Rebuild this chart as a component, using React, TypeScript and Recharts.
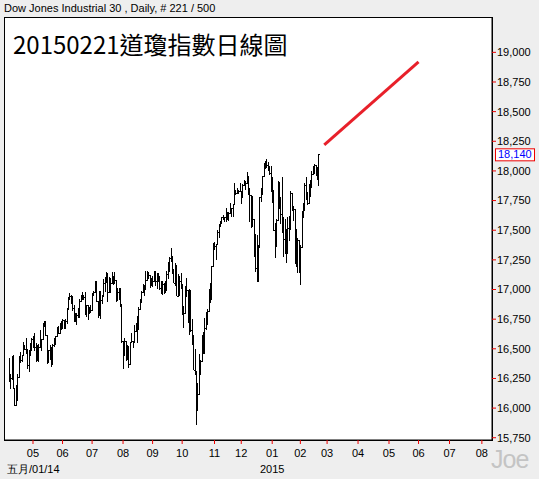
import { ComposedChart, Bar, Line, XAxis, YAxis, ReferenceLine } from "recharts"

// trading-day index of the first bar (0 = 2014-05-01)
const firstIndex = -17

// DJIA daily OHLC, 2014-04-07 .. 2015-02-20, one row per month
const opens = [
  16412, 16245, 16256, 16437, 16170, 16027, 16174, 16263, 16425, 16409, 16449, 16514, 16502, 16501, 16361, 16448, 16535,
  16581, 16558, 16512, 16530, 16401, 16518, 16550, 16583, 16695, 16715, 16613, 16447, 16491, 16511, 16374, 16533, 16543, 16606, 16676, 16633, 16699,
  16717, 16743, 16722, 16738, 16836, 16924, 16943, 16945, 16843, 16734, 16776, 16781, 16808, 16906, 16921, 16948, 16937, 16818, 16868, 16846, 16851,
  16827, 16956, 16976, 17068, 16907, 16787, 16986, 16915, 16944, 17055, 17061, 17138, 16977, 17100, 17052, 17114, 17087, 17083, 16961, 16983, 16913, 16881,
  16563, 16493, 16570, 16430, 16444, 16369, 16554, 16570, 16561, 16652, 16713, 16663, 16839, 16920, 16980, 17039, 17001, 17077, 17107, 17123, 17079,
  17098, 17068, 17078, 17070, 17138, 17112, 17014, 17068, 17050, 16988, 17031, 17131, 17157, 17266, 17280, 17173, 17056, 17210, 16946, 17113, 17071,
  17043, 16805, 16802, 17010, 16992, 16720, 16994, 16660, 16544, 16321, 16316, 16142, 16117, 16380, 16400, 16615, 16462, 16677, 16805, 16818, 17006, 16975, 17196,
  17391, 17367, 17384, 17485, 17555, 17574, 17614, 17615, 17612, 17652, 17635, 17648, 17688, 17686, 17720, 17810, 17818, 17815, 17828,
  17828, 17777, 17880, 17913, 17901, 17959, 17853, 17801, 17533, 17597, 17281, 17180, 17068, 17357, 17779, 17805, 17959, 18024, 18030, 18053, 18038, 17983,
  17823, 17833, 17501, 17371, 17585, 17908, 17737, 17640, 17613, 17427, 17320, 17511, 17515, 17554, 17814, 17672, 17678, 17387, 17191, 17416,
  17165, 17361, 17666, 17673, 17885, 17825, 17729, 17868, 17862, 17973, 18019, 18048, 18030, 17986,
]

const highs = [
  16425, 16284, 16440, 16446, 16170, 16191, 16287, 16438, 16476, 16449, 16555, 16532, 16588, 16501, 16490, 16550, 16588,
  16604, 16631, 16551, 16530, 16542, 16657, 16583, 16714, 16736, 16735, 16613, 16491, 16529, 16514, 16544, 16590, 16607, 16681, 16692, 16715, 16735,
  16755, 16743, 16749, 16845, 16934, 16970, 16953, 16945, 16872, 16800, 16805, 16843, 16918, 16956, 16979, 16953, 16978, 16870, 16868, 16853, 16873,
  16974, 16990, 17074, 17068, 16907, 16986, 16986, 16955, 17088, 17102, 17151, 17138, 17102, 17100, 17146, 17114, 17151, 17083, 17013, 17016, 17014, 16881,
  16563, 16595, 16570, 16534, 16522, 16560, 16636, 16570, 16700, 16719, 16776, 16856, 16920, 16987, 17046, 17042, 17153, 17154, 17144, 17123, 17099,
  17112, 17156, 17153, 17139, 17138, 17112, 17069, 17068, 17051, 17073, 17156, 17233, 17275, 17351, 17280, 17173, 17221, 17210, 17133, 17113, 17136,
  17043, 16857, 17027, 17099, 16992, 17008, 16994, 16749, 16613, 16496, 16316, 16208, 16458, 16407, 16619, 16641, 16758, 16808, 16832, 17006, 17058, 17196, 17395,
  17400, 17388, 17500, 17556, 17576, 17614, 17627, 17615, 17684, 17657, 17656, 17729, 17688, 17721, 17894, 17841, 17852, 17837, 17894,
  17828, 17887, 17925, 17915, 17991, 17959, 17853, 17801, 17787, 17597, 17465, 17463, 17372, 17779, 17852, 17960, 18069, 18086, 18103, 18079, 18038, 18043,
  17951, 17838, 17562, 17597, 17916, 17908, 17782, 17951, 17613, 17591, 17514, 17612, 17622, 17831, 17814, 17708, 17678, 17508, 17434, 17416,
  17372, 17666, 17732, 17896, 17951, 17825, 17890, 17924, 18003, 18044, 18061, 18048, 18030, 18141,
]

const lows = [
  16220, 16158, 16240, 16164, 16015, 16027, 16060, 16263, 16377, 16385, 16449, 16490, 16455, 16328, 16304, 16448, 16480,
  16505, 16484, 16389, 16397, 16401, 16518, 16480, 16583, 16680, 16605, 16375, 16379, 16406, 16345, 16374, 16519, 16543, 16606, 16627, 16633, 16660,
  16665, 16668, 16663, 16705, 16836, 16918, 16881, 16820, 16724, 16734, 16703, 16756, 16761, 16900, 16921, 16912, 16787, 16766, 16744, 16795, 16803,
  16827, 16949, 16976, 16895, 16760, 16787, 16750, 16874, 16944, 16981, 17061, 16896, 16977, 16971, 17052, 17038, 17049, 16898, 16903, 16912, 16853, 16548,
  16333, 16437, 16394, 16405, 16334, 16368, 16554, 16508, 16561, 16652, 16548, 16663, 16839, 16887, 16980, 16947, 17001, 17077, 17087, 17015, 17030,
  17017, 17068, 17030, 17003, 17066, 16992, 16958, 16954, 16963, 16974, 16989, 17090, 17157, 17235, 17128, 17053, 17032, 16945, 16946, 16945, 17002,
  16781, 16674, 16802, 16940, 16716, 16619, 16642, 16530, 16321, 16276, 15855, 15976, 16117, 16280, 16400, 16460, 16462, 16661, 16703, 16818, 16884, 16913, 17196,
  17329, 17251, 17384, 17436, 17523, 17550, 17590, 17566, 17570, 17590, 17580, 17648, 17610, 17611, 17720, 17796, 17806, 17805, 17820,
  17719, 17777, 17870, 17840, 17901, 17794, 17573, 17522, 17533, 17276, 17150, 17067, 17068, 17357, 17741, 17805, 17959, 18023, 18030, 17997, 17966, 17820,
  17731, 17492, 17262, 17371, 17585, 17681, 17553, 17480, 17276, 17299, 17227, 17299, 17405, 17499, 17660, 17579, 17219, 17191, 17137, 17139,
  17037, 17361, 17603, 17673, 17753, 17711, 17729, 17783, 17862, 17973, 17974, 17957, 17922, 17870,
]

const closes = [
  16245, 16256, 16437, 16170, 16027, 16174, 16263, 16425, 16409, 16449, 16514, 16502, 16501, 16361, 16448, 16535, 16581,
  16558, 16512, 16530, 16401, 16518, 16550, 16583, 16695, 16715, 16613, 16447, 16491, 16511, 16374, 16533, 16543, 16606, 16676, 16633, 16699, 16717,
  16743, 16722, 16738, 16836, 16924, 16943, 16945, 16843, 16734, 16776, 16781, 16808, 16906, 16921, 16948, 16937, 16818, 16868, 16846, 16851, 16827,
  16956, 16976, 17068, 16907, 16787, 16986, 16915, 16944, 17055, 17061, 17138, 16977, 17100, 17052, 17114, 17087, 17083, 16961, 16983, 16913, 16881, 16563,
  16493, 16570, 16430, 16444, 16369, 16554, 16570, 16561, 16652, 16713, 16663, 16839, 16920, 16980, 17039, 17001, 17077, 17107, 17123, 17079, 17098,
  17068, 17078, 17070, 17138, 17112, 17014, 17068, 17050, 16988, 17031, 17131, 17157, 17266, 17280, 17173, 17056, 17210, 16946, 17113, 17071, 17043,
  16805, 16802, 17010, 16992, 16720, 16994, 16660, 16544, 16321, 16316, 16142, 16117, 16380, 16400, 16615, 16462, 16677, 16805, 16818, 17006, 16975, 17196, 17391,
  17367, 17384, 17485, 17555, 17574, 17614, 17615, 17612, 17652, 17635, 17648, 17688, 17686, 17720, 17810, 17818, 17815, 17828, 17828,
  17777, 17880, 17913, 17901, 17959, 17853, 17801, 17533, 17597, 17281, 17180, 17068, 17357, 17779, 17805, 17959, 18024, 18030, 18053, 18038, 17983, 17823,
  17833, 17501, 17371, 17585, 17908, 17737, 17640, 17613, 17427, 17320, 17511, 17515, 17554, 17814, 17672, 17678, 17387, 17191, 17416, 17165,
  17361, 17666, 17673, 17885, 17825, 17729, 17868, 17862, 17973, 18019, 18048, 18030, 17986, 18140,
]

// month starts on the trading-day axis (future months count weekdays)
const monthTicks = [0, 21, 42, 64, 85, 106, 129, 148, 170, 190, 209, 231, 253, 274, 296, 319]
const monthLabels = ["05", "06", "07", "08", "09", "10", "11", "12", "01", "02", "03", "04", "05", "06", "07", "08"]

const priceTicks = [15750, 16000, 16250, 16500, 16750, 17000, 17250, 17500, 17750, 18000, 18250, 18500, 18750, 19000]

// red projection line
const trendIndex = [207, 274]
const trendValues = [18220, 18920]

const lastClose = 18140

const W = 539
const H = 479
const plot = { left: 4, top: 17, right: 492, bottom: 440 }

const bars = closes.map((c, k) => ({
  i: firstIndex + k,
  o: opens[k],
  h: highs[k],
  l: lows[k],
  c,
}))

const trend = trendIndex.map((i, k) => ({ i, v: trendValues[k] }))

function OhlcBar(props: any) {
  const { x, y, width, height, payload } = props
  const top = Math.min(y, y + height)
  const span = Math.abs(height)
  const cx = Math.round(x + width / 2) + 0.5
  const k = span / (payload.h - payload.l || 1)
  const oy = Math.round(top + (payload.h - payload.o) * k) + 0.5
  const cy = Math.round(top + (payload.h - payload.c) * k) + 0.5
  return (
    <g stroke="#000" strokeWidth={1} shapeRendering="crispEdges">
      <line x1={cx} x2={cx} y1={top} y2={top + Math.max(span, 1)} />
      <line x1={cx - 1} x2={cx} y1={oy} y2={oy} />
      <line x1={cx} x2={cx + 1.5} y1={cy} y2={cy} />
    </g>
  )
}

function MonthTick(props: any) {
  const { x, y, payload } = props
  const label = monthLabels[monthTicks.indexOf(payload.value)]
  return (
    <g>
      <text x={x} y={y} dy="0.71em" textAnchor="middle" fontSize={11} fill="#000">
        {label}
      </text>
      {payload.value === 170 && (
        <text x={x} y={y + 16} dy="0.71em" textAnchor="middle" fontSize={11} fill="#000">
          2015
        </text>
      )}
    </g>
  )
}

function LastLabel(props: any) {
  const { viewBox } = props
  const x = viewBox.x + viewBox.width + 3
  const y = viewBox.y
  return (
    <g>
      <rect x={x + 0.5} y={y - 5.5} width={39} height={12} fill="#fff" stroke="#e00" />
      <text x={x + 3} y={y} dy="0.36em" fontSize={11} fill="#00f">
        {lastClose.toLocaleString("en-US")}
      </text>
    </g>
  )
}

export default function App() {
  const font = "'Liberation Sans', Arial, sans-serif"
  return (
    <div
      style={{
        position: "fixed",
        left: 0,
        top: 0,
        width: W,
        height: H,
        background: "#eeeeee",
        fontFamily: font,
      }}
    >
      <svg width={W} height={H} style={{ position: "absolute", left: 0, top: 0 }}>
        <rect
          x={plot.left + 0.5}
          y={plot.top + 0.5}
          width={plot.right - plot.left}
          height={plot.bottom - plot.top}
          fill="#fff"
          stroke="#000"
        />
      </svg>
      <div style={{ position: "absolute", left: 0, top: 0 }}>
        <ComposedChart
          width={W}
          height={H}
          data={bars}
          margin={{ top: plot.top, right: 0, bottom: 0, left: plot.left }}
          style={{ fontFamily: font }}
        >
          <XAxis
            dataKey="i"
            type="number"
            domain={[-20.6, 326.2]}
            allowDataOverflow
            ticks={monthTicks}
            interval={0}
            height={H - plot.bottom}
            tickSize={4}
            tickMargin={5}
            tickLine={{ stroke: "#e00" }}
            axisLine={{ stroke: "#000" }}
            tick={<MonthTick />}
          />
          <YAxis
            orientation="right"
            type="number"
            domain={[15731, 19298]}
            allowDataOverflow
            ticks={priceTicks}
            interval={0}
            width={W - plot.right}
            tickSize={4}
            tickMargin={1}
            tickLine={{ stroke: "#e00" }}
            axisLine={{ stroke: "#000" }}
            tick={{ fontSize: 11, fill: "#000", textAnchor: "start" }}
            tickFormatter={(v: number) => v.toLocaleString("en-US")}
          />
          <Bar
            dataKey={(d: any) => [d.l, d.h]}
            barSize={1}
            shape={<OhlcBar />}
            isAnimationActive={false}
          />
          <Line
            data={trend}
            dataKey="v"
            stroke="#e8202a"
            strokeWidth={3}
            dot={false}
            isAnimationActive={false}
          />
          <ReferenceLine y={lastClose} stroke="none" label={<LastLabel />} />
        </ComposedChart>
      </div>
      <svg width={W} height={H} style={{ position: "absolute", left: 0, top: 0, pointerEvents: "none" }}>
        <text x={4} y={12} fontSize={11} fill="#000" fontFamily={font}>
          Dow Jones Industrial 30 , Daily, # 221 / 500
        </text>
        <text x={13} y={53.5} fontSize={24} fill="#000" fontFamily="'Noto Sans CJK TC', 'Noto Sans', sans-serif">
          20150221道瓊指數日線圖
        </text>
        <text x={7} y={473} fontSize={11} fill="#000" fontFamily={font}>
          五月/01/14
        </text>
        <text x={491} y={468} fontSize={25} letterSpacing={-1} fill="#c4c4c4" fontFamily={font}>
          Joe
        </text>
      </svg>
    </div>
  )
}
